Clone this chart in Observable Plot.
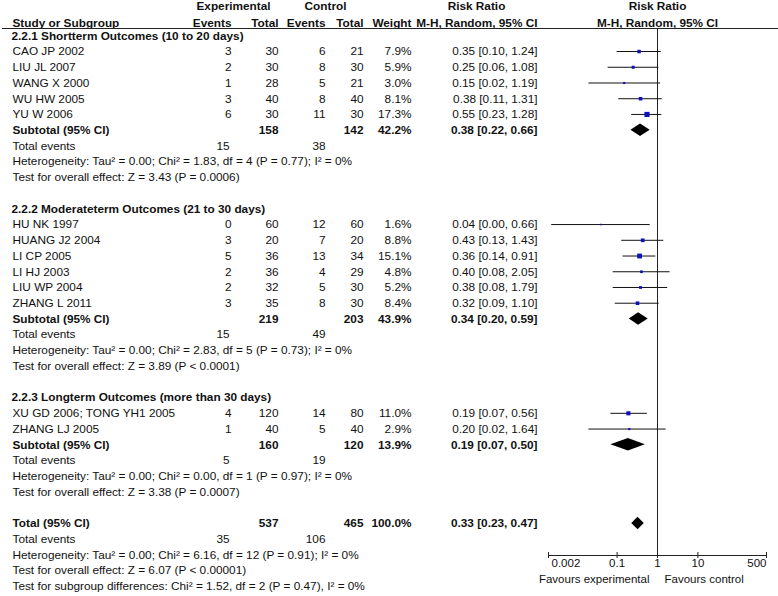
<!DOCTYPE html>
<html>
<head>
<meta charset="utf-8">
<script src="https://cdn.jsdelivr.net/npm/d3@7"></script>
<script src="https://cdn.jsdelivr.net/npm/@observablehq/plot@0.6"></script>
<style>
  html, body { margin: 0; padding: 0; background: #fff; }
  #chart svg { display: block; }
</style>
</head>
<body>
<div id="chart"></div>
<script>
// ---------- data ----------
const studies = ["CAO JP 2002", "LIU JL 2007", "WANG X 2000", "WU HW 2005", "YU W 2006",
  "HU NK 1997", "HUANG J2 2004", "LI CP 2005", "LI HJ 2003", "LIU WP 2004", "ZHANG L 2011",
  "XU GD 2006; TONG YH1 2005", "ZHANG LJ 2005"];
const studyGroup = [0, 0, 0, 0, 0, 1, 1, 1, 1, 1, 1, 2, 2];
const expEvents = [3, 2, 1, 3, 6, 0, 3, 5, 2, 2, 3, 4, 1];
const expTotal = [30, 30, 28, 40, 30, 60, 20, 36, 36, 32, 35, 120, 40];
const ctlEvents = [6, 8, 5, 8, 11, 12, 7, 13, 4, 5, 8, 14, 5];
const ctlTotal = [21, 30, 21, 40, 30, 60, 20, 34, 29, 30, 30, 80, 40];
const weights = [7.9, 5.9, 3.0, 8.1, 17.3, 1.6, 8.8, 15.1, 4.8, 5.2, 8.4, 11.0, 2.9];
const riskRatio = [0.35, 0.25, 0.15, 0.38, 0.55, 0.04, 0.43, 0.36, 0.40, 0.38, 0.32, 0.19, 0.20];
const ciLower = [0.10, 0.06, 0.02, 0.11, 0.23, 0.0024, 0.13, 0.14, 0.08, 0.08, 0.09, 0.07, 0.02];
const ciUpper = [1.24, 1.08, 1.19, 1.31, 1.28, 0.66, 1.43, 0.91, 2.05, 1.79, 1.10, 0.56, 1.64];

const subgroupTitles = ["2.2.1 Shortterm Outcomes (10 to 20 days)",
  "2.2.2 Moderateterm Outcomes (21 to 30 days)",
  "2.2.3 Longterm Outcomes (more than 30 days)"];
const subExpTotal = [158, 219, 160];
const subCtlTotal = [142, 203, 120];
const subExpEvents = [15, 15, 5];
const subCtlEvents = [38, 49, 19];
const subWeight = [42.2, 43.9, 13.9];
const subRR = [0.38, 0.34, 0.19];
const subLower = [0.22, 0.20, 0.07];
const subUpper = [0.66, 0.59, 0.50];
const subHeterogeneity = [
  "Heterogeneity: Tau\u00B2 = 0.00; Chi\u00B2 = 1.83, df = 4 (P = 0.77); I\u00B2 = 0%",
  "Heterogeneity: Tau\u00B2 = 0.00; Chi\u00B2 = 2.83, df = 5 (P = 0.73); I\u00B2 = 0%",
  "Heterogeneity: Tau\u00B2 = 0.00; Chi\u00B2 = 0.00, df = 1 (P = 0.97); I\u00B2 = 0%"];
const subOverall = [
  "Test for overall effect: Z = 3.43 (P = 0.0006)",
  "Test for overall effect: Z = 3.89 (P < 0.0001)",
  "Test for overall effect: Z = 3.38 (P = 0.0007)"];

const totalExpTotal = 537, totalCtlTotal = 465;
const totalExpEvents = 35, totalCtlEvents = 106;
const totalWeight = 100.0, totalRR = 0.33, totalLower = 0.23, totalUpper = 0.47;
const totalHeterogeneity = "Heterogeneity: Tau\u00B2 = 0.00; Chi\u00B2 = 6.16, df = 12 (P = 0.91); I\u00B2 = 0%";
const totalOverall = "Test for overall effect: Z = 6.07 (P < 0.00001)";
const subgroupDifferences = "Test for subgroup differences: Chi\u00B2 = 1.52, df = 2 (P = 0.47), I\u00B2 = 0%";

const headerGroups = ["Experimental", "Control", "Risk Ratio", "Risk Ratio"];
const headerColumns = ["Study or Subgroup", "Events", "Total", "Events", "Total", "Weight",
  "M-H, Random, 95% CI", "M-H, Random, 95% CI"];
const axisTicks = [0.002, 0.1, 1, 10, 500];
const axisTickLabels = ["0.002", "0.1", "1", "10", "500"];
const favourLabels = ["Favours experimental", "Favours control"];

// ---------- table rows ----------
const rows = [];
let r = 0;
subgroupTitles.forEach((title, g) => {
  rows.push({row: r++, kind: "group", label: title});
  studies.forEach((name, i) => {
    if (studyGroup[i] !== g) return;
    rows.push({row: r++, kind: "study", label: name, expEv: expEvents[i], expTot: expTotal[i],
      ctlEv: ctlEvents[i], ctlTot: ctlTotal[i], w: weights[i], est: riskRatio[i], lo: ciLower[i], hi: ciUpper[i]});
  });
  rows.push({row: r++, kind: "summary", label: "Subtotal (95% CI)", expTot: subExpTotal[g], ctlTot: subCtlTotal[g],
    w: subWeight[g], est: subRR[g], lo: subLower[g], hi: subUpper[g]});
  rows.push({row: r++, kind: "events", label: "Total events", expEv: subExpEvents[g], ctlEv: subCtlEvents[g]});
  rows.push({row: r++, kind: "note", label: subHeterogeneity[g]});
  rows.push({row: r++, kind: "note", label: subOverall[g]});
  r++; // blank line
});
rows.push({row: r++, kind: "summary", label: "Total (95% CI)", expTot: totalExpTotal, ctlTot: totalCtlTotal,
  w: totalWeight, est: totalRR, lo: totalLower, hi: totalUpper});
rows.push({row: r++, kind: "events", label: "Total events", expEv: totalExpEvents, ctlEv: totalCtlEvents});
rows.push({row: r++, kind: "note", label: totalHeterogeneity});
rows.push({row: r++, kind: "note", label: totalOverall});
rows.push({row: r++, kind: "note", label: subgroupDifferences});
const lastRow = r - 1;

const studyRows = rows.filter(d => d.kind === "study");
const summaryRows = rows.filter(d => d.kind === "summary");
const eventRows = rows.filter(d => d.kind === "events");
const plainRows = rows.filter(d => d.kind === "study" || d.kind === "events" || d.kind === "note");
const boldRows = rows.filter(d => d.kind === "summary");
const groupRows = rows.filter(d => d.kind === "group");

const f2 = v => v.toFixed(2);
const ciText = d => `${f2(d.est)} [${f2(d.lo)}, ${f2(d.hi)}]`;
const wText = d => d.w.toFixed(1) + "%";

// diamond outlines (from summary estimates)
const diamond = summaryRows.flatMap(d => [
  {id: d.row, y: d.row - 0.4, x1: d.est, x2: d.est},
  {id: d.row, y: d.row, x1: d.lo, x2: d.hi},
  {id: d.row, y: d.row + 0.4, x1: d.est, x2: d.est}
]);

// ---------- layout ----------
const W = 778, H = 596;
const LEFT = 548, RIGHT = 12, TOP = 28, BOTTOM = 41;
const ROW0 = 35.3, STEP = 15.73;
const X = {label: 12, group: 11, expEv: 231, expTot: 278, ctlEv: 325, ctlTot: 363, weight: 411, ci: 537,
  expHead: 233, ctlHead: 325, rrHead: 476};

function col(data, text, x, anchor = "end", bold = false) {
  return Plot.text(data, {y: "row", text, frameAnchor: "left", dx: x - LEFT, textAnchor: anchor,
    fontWeight: bold ? "bold" : "normal", fill: "#111"});
}
const hdr1 = [{row: -1.88}], hdr2 = [{row: -0.8}];

const chart = Plot.plot({
  width: W, height: H,
  marginLeft: LEFT, marginRight: RIGHT, marginTop: TOP, marginBottom: BOTTOM,
  style: {fontFamily: "'Liberation Sans', Arial, sans-serif", fontSize: "11.8px", background: "#fff", color: "#111"},
  x: {type: "log", domain: [0.002, 500]},
  y: {domain: [-2, lastRow], range: [ROW0 - 2 * STEP, ROW0 + lastRow * STEP], axis: null},
  r: {type: "sqrt", domain: [0, 100], range: [0, 7]},
  marks: [
    // header
    col(hdr1, () => headerGroups[0], X.expHead, "middle", true),
    col(hdr1, () => headerGroups[1], X.ctlHead, "middle", true),
    col(hdr1, () => headerGroups[2], X.rrHead, "middle", true),
    Plot.text(hdr1, {x: () => 1, y: "row", text: () => headerGroups[3], fontWeight: "bold", fill: "#111"}),
    col(hdr2, () => headerColumns[0], X.label, "start", true),
    col(hdr2, () => headerColumns[1], X.expEv, "end", true),
    col(hdr2, () => headerColumns[2], X.expTot, "end", true),
    col(hdr2, () => headerColumns[3], X.ctlEv, "end", true),
    col(hdr2, () => headerColumns[4], X.ctlTot, "end", true),
    col(hdr2, () => headerColumns[5], X.weight, "end", true),
    col(hdr2, () => headerColumns[6], X.ci, "end", true),
    Plot.text(hdr2, {x: () => 1, y: "row", text: () => headerColumns[7], fontWeight: "bold", fill: "#111"}),
    Plot.frame({anchor: "top", insetLeft: -(LEFT - 2), insetRight: -RIGHT, stroke: "#222"}),

    // left table
    col(groupRows, "label", X.group, "start", true),
    col(plainRows, "label", X.label, "start"),
    col(boldRows, "label", X.label, "start", true),
    col(studyRows, "expEv", X.expEv),
    col(studyRows, "expTot", X.expTot),
    col(studyRows, "ctlEv", X.ctlEv),
    col(studyRows, "ctlTot", X.ctlTot),
    col(studyRows, wText, X.weight),
    col(studyRows, ciText, X.ci),
    col(eventRows, "expEv", X.expEv - 2),
    col(eventRows, "ctlEv", X.ctlEv),
    col(summaryRows, "expTot", X.expTot, "end", true),
    col(summaryRows, "ctlTot", X.ctlTot, "end", true),
    col(summaryRows, wText, X.weight, "end", true),
    col(summaryRows, ciText, X.ci, "end", true),

    // forest
    Plot.ruleX([1], {stroke: "#222"}),
    Plot.frame({anchor: "bottom", stroke: "#222"}),
    Plot.axisX(axisTicks, {tickSize: 6, dy: -3, tickFormat: () => "", stroke: "#222"}),
    Plot.text(axisTicks.slice(1, -1), {x: d => d, text: (d, i) => axisTickLabels[i + 1], frameAnchor: "bottom", dy: 11, fill: "#111", fontSize: 11.5}),
    Plot.text(axisTicks.slice(0, 1), {x: d => d, text: () => axisTickLabels[0], frameAnchor: "bottom", dy: 11, dx: 3, textAnchor: "start", fill: "#111", fontSize: 11.5}),
    Plot.text(axisTicks.slice(-1), {x: d => d, text: () => axisTickLabels[axisTickLabels.length - 1], frameAnchor: "bottom", dy: 11, textAnchor: "end", fill: "#111", fontSize: 11.5}),
    Plot.text([favourLabels[0]], {x: () => 1, text: d => d, frameAnchor: "bottom", dy: 27, dx: -8, textAnchor: "end", fill: "#111", fontSize: 11.5}),
    Plot.text([favourLabels[1]], {x: () => 1, text: d => d, frameAnchor: "bottom", dy: 27, dx: 7, textAnchor: "start", fill: "#111", fontSize: 11.5}),
    Plot.ruleY(studyRows, {y: "row", x1: "lo", x2: "hi", stroke: "#111", strokeWidth: 1}),
    Plot.dot(studyRows, {x: "est", y: "row", r: "w", symbol: "square", fill: "#1010c0", stroke: null}),
    Plot.areaX(diamond, {y: "y", x1: "x1", x2: "x2", z: "id", fill: "#000", curve: "linear"})
  ]
});
document.getElementById("chart").appendChild(chart);
</script>
</body>
</html>
